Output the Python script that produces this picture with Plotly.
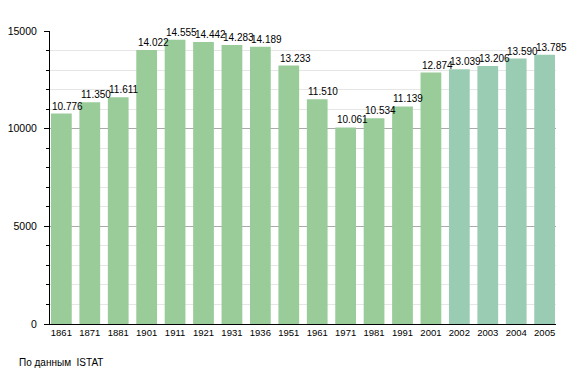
import plotly.graph_objects as go

years = ["1861", "1871", "1881", "1901", "1911", "1921", "1931", "1936", "1951",
         "1961", "1971", "1981", "1991", "2001", "2002", "2003", "2004", "2005"]
population = [10776, 11350, 11611, 14022, 14555, 14442, 14283, 14189, 13233,
              11510, 10061, 10534, 11139, 12874, 13039, 13206, 13590, 13785]
census_color = "#99cc99"
estimate_color = "#99ccb2"
colors = [census_color if int(y) <= 2001 else estimate_color for y in years]

FONT = "Liberation Sans, Arial, Helvetica, sans-serif"

fig = go.Figure()
fig.add_trace(go.Bar(
    x=years, y=population,
    marker=dict(color=colors, line=dict(width=0)),
    hoverinfo="x+y",
))

for i, v in enumerate(population):
    fig.add_annotation(
        x=i, y=v, xref="x", yref="y",
        text=f"{v:,}".replace(",", "."),
        showarrow=False, xanchor="left", yanchor="bottom",
        xshift=-11, yshift=0,
        font=dict(family=FONT, size=10, color="#000"),
    )

fig.add_annotation(
    x=-0.065, y=-0.132, xref="paper", yref="paper",
    text="По данным  ISTAT", showarrow=False,
    xanchor="left", yanchor="middle",
    font=dict(family=FONT, size=10, color="#000"),
)

fig.update_layout(
    width=577, height=365,
    margin=dict(l=42, r=29, t=23, b=49, autoexpand=False),
    paper_bgcolor="white", plot_bgcolor="white",
    bargap=0.27,
    showlegend=False,
    font=dict(family=FONT, size=10, color="#000"),
    xaxis=dict(
        type="category", range=[-0.4, 17.4], automargin=False,
        showline=True, linecolor="#000", linewidth=1,
        ticks="", showgrid=False,
        tickfont=dict(family=FONT, size=9.5, color="#000"),
    ),
    yaxis=dict(
        range=[0, 15000], dtick=5000, tickformat="d", automargin=False,
        showline=True, linecolor="#000", linewidth=1,
        ticks="outside", ticklen=5, tickcolor="#000",
        showgrid=True, gridcolor="#aaaaaa", gridwidth=1,
        zeroline=False,
        ticklabelstandoff=5,
        tickfont=dict(family=FONT, size=10.5, color="#000"),
        minor=dict(dtick=1000, showgrid=True, gridcolor="#e6e6e6",
                   ticks="outside", ticklen=3, tickcolor="#000"),
    ),
)

fig.write_html("out.html")
